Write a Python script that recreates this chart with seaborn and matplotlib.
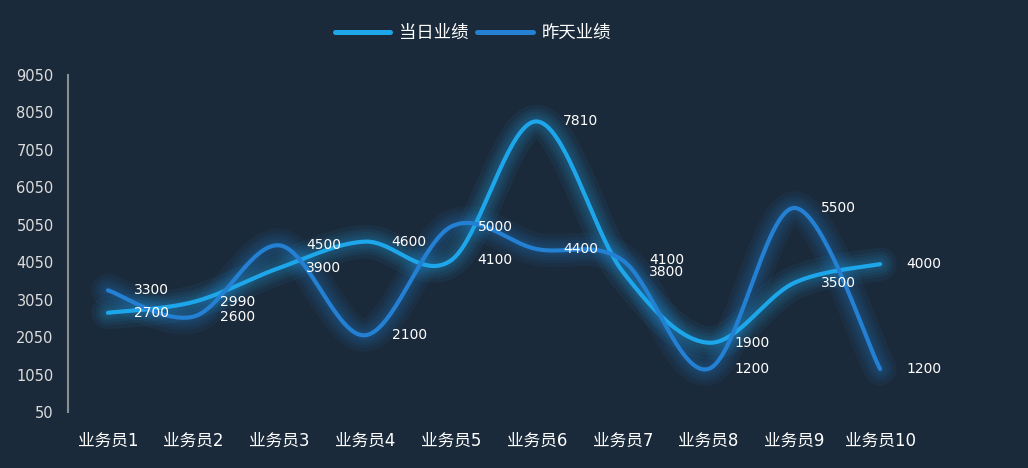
import numpy as np
import pandas as pd
import matplotlib
matplotlib.use("Agg")
import matplotlib.pyplot as plt
import seaborn as sns

# data
categories = ["业务员1", "业务员2", "业务员3", "业务员4", "业务员5",
              "业务员6", "业务员7", "业务员8", "业务员9", "业务员10"]
today = [2700, 2990, 3900, 4600, 4100, 7810, 3800, 1900, 3500, 4000]
yesterday = [3300, 2600, 4500, 2100, 5000, 4400, 4100, 1200, 5500, 1200]
series_names = ["当日业绩", "昨天业绩"]
yticks = list(range(50, 9051, 1000))
colors = ["#1ea6ea", "#2380d2"]
bg = "#1b2a3a"

sns.set_theme(style="dark")
# digits in DejaVu, chinese falls back to Noto CJK
plt.rcParams["font.family"] = ["DejaVu Sans", "Noto Sans CJK SC"]


def smooth(values, n=40):
    # catmull-rom style smoothing like Excel's smoothed line
    x = np.arange(len(values), dtype=float)
    y = np.asarray(values, dtype=float)
    px = np.concatenate([[x[0]], x, [x[-1]]])
    py = np.concatenate([[y[0]], y, [y[-1]]])
    xs, ys = [], []
    t = np.linspace(0, 1, n)
    for i in range(1, len(px) - 2):
        p0, p1, p2, p3 = (np.array([px[j], py[j]]) for j in range(i - 1, i + 3))
        c1 = p1 + (p2 - p0) / 6
        c2 = p2 - (p3 - p1) / 6
        b = ((1 - t) ** 3)[:, None] * p1 + (3 * (1 - t) ** 2 * t)[:, None] * c1 \
            + (3 * (1 - t) * t ** 2)[:, None] * c2 + (t ** 3)[:, None] * p2
        xs.extend(b[:, 0])
        ys.extend(b[:, 1])
    return np.array(xs), np.array(ys)


fig = plt.figure(figsize=(10.28, 4.68), dpi=100, facecolor=bg)
ax = fig.add_axes([65 / 1028, 56 / 468, 858 / 1028, 337 / 468])
ax.set_facecolor(bg)

rows = []
for name, vals in zip(series_names, [today, yesterday]):
    sx, sy = smooth(vals)
    rows.append(pd.DataFrame({"x": sx, "y": sy, "series": name}))
df = pd.concat(rows, ignore_index=True)

# glow underneath
for name, col in zip(series_names[::-1], colors[::-1]):
    d = df[df["series"] == name]
    for lw in [24, 18, 14, 10, 7]:
        ax.plot(d["x"], d["y"], color=col, lw=lw, alpha=0.07,
                solid_capstyle="round", zorder=1)

sns.lineplot(data=df, x="x", y="y", hue="series", hue_order=series_names,
             palette=colors, linewidth=3, sort=False, estimator=None,
             legend=False, ax=ax, zorder=3)

# data labels
for vals in [today, yesterday]:
    for i, v in enumerate(vals):
        ax.annotate(str(v), (i, v), xytext=(19, 0), textcoords="offset points",
                    ha="left", va="center", color="white", fontsize=10,
                    zorder=5)

ax.set_xlim(-0.5, 9.5)
ax.set_ylim(50, 9050)
ax.tick_params(axis="y", length=0, pad=10, labelcolor="#dcdcdc", labelsize=10.5)
ax.tick_params(axis="x", length=0, pad=14, labelcolor="white", labelsize=12)
ax.set_yticks(yticks)
ax.set_xticks(range(len(categories)))
ax.set_xticklabels(categories)
ax.set_xlabel("")
ax.set_ylabel("")
ax.grid(False)
for s in ["top", "right", "bottom"]:
    ax.spines[s].set_visible(False)
ax.spines["left"].set_color("#8a8f96")
ax.spines["left"].set_linewidth(1.5)
ax.spines["left"].set_position(("data", -0.47))

handles = [plt.Line2D([], [], color=c, lw=3.6) for c in colors]
fig.legend(handles, series_names, loc="center", bbox_to_anchor=(0.46, 0.93),
           ncol=2, frameon=False, fontsize=12.5, labelcolor="white",
           handlelength=3.2, columnspacing=0.5, handletextpad=0.5)

fig.savefig("out.png", dpi=100, facecolor=bg)
